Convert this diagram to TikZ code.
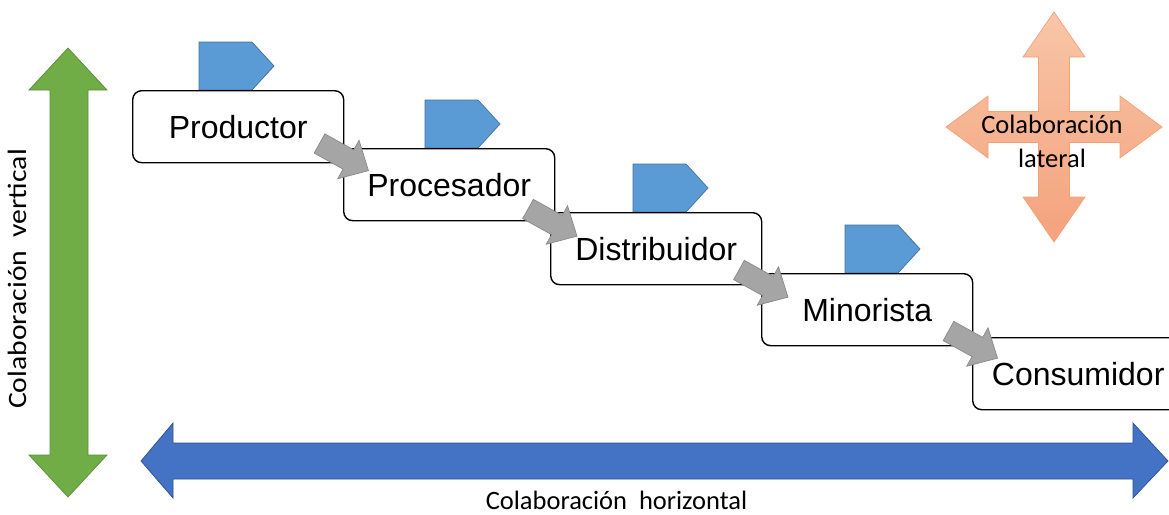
\documentclass[tikz,border=0pt]{standalone}
\usepackage{fontspec}
\setmainfont{Liberation Sans}
\newfontfamily\calibri{Carlito}
\usetikzlibrary{calc}
\definecolor{tagblue}{HTML}{5B9BD5}
\definecolor{tagborder}{HTML}{41719C}
\definecolor{arrgray}{HTML}{A5A5A5}
\definecolor{arrgrayb}{HTML}{8A8A8A}
\definecolor{vgreen}{HTML}{70AD47}
\definecolor{vgreenb}{HTML}{5A8F38}
\definecolor{hblue}{HTML}{4472C4}
\definecolor{hblueb}{HTML}{2F528F}
\definecolor{orTop}{HTML}{F8C6A8}
\definecolor{orBot}{HTML}{F4A27C}
\definecolor{orB}{HTML}{F2A277}
\begin{document}
\begin{tikzpicture}[x=1pt,y=-1pt,
  stagebox/.style={draw=black, line width=1.4pt, rounded corners=9pt, fill=white,
    minimum width=211pt, minimum height=72pt, inner sep=0pt, anchor=north west,
    font=\fontsize{32}{38}\selectfont},
  tagshape/.style={fill=tagblue, draw=tagborder, line width=0.7pt},
  grayarrow/.style={fill=arrgray, draw=arrgrayb, line width=0.7pt},
  labelfont/.style={font=\calibri\fontsize{26.5}{34}\selectfont},
  labeltag/.pic={\draw[tagshape] (0,0) -- (0,-48) -- (53,-48) -- (75,-24) -- (53,0) -- cycle;},
  flowarrow/.pic={\draw[grayarrow] (0,-11) -- (33,-11) -- (33,-22) -- (56,0) -- (33,22) -- (33,11) -- (0,11) -- cycle;}
]
\clip (0,0) rectangle (1169,514);
\fill[white] (0,0) rectangle (1169,514);

% vertical collaboration arrow
\draw[fill=vgreen, draw=vgreenb, line width=0.7pt]
  (68,48) -- (107,90) -- (88,90) -- (88,455) -- (107,455) -- (68,497) -- (29,455)
  -- (50,455) -- (50,90) -- (29,90) -- cycle;
\node[labelfont, rotate=90, anchor=base] (vlab) at (27,279)
  {\scalebox{1.12}[1]{Colaboración\hspace{0.45em}vertical}};

% horizontal collaboration arrow
\draw[fill=hblue, draw=hblueb, line width=0.7pt]
  (141,461) -- (173,423) -- (173,443) -- (1133,443) -- (1133,423) -- (1168,461)
  -- (1133,498) -- (1133,479) -- (173,479) -- (173,498) -- cycle;
\node[labelfont, anchor=base, inner sep=0pt] (hlab) at (616.5,509) {Colaboración\hspace{0.45em}horizontal};

% lateral collaboration cross
\begin{scope}[shift={(1054,127)}]
\draw[top color=orTop, bottom color=orBot, draw=orB, line width=0.7pt]
  (0,-115) -- (31,-70) -- (15.5,-70) -- (15.5,-15.5) -- (66,-15.5) -- (66,-31) -- (108,0)
  -- (66,31) -- (66,15.5) -- (15.5,15.5) -- (15.5,70) -- (31,70) -- (0,115) -- (-31,70)
  -- (-15.5,70) -- (-15.5,15.5) -- (-66,15.5) -- (-66,31) -- (-108,0) -- (-66,-31)
  -- (-66,-15.5) -- (-15.5,-15.5) -- (-15.5,-70) -- (-31,-70) -- cycle;
\end{scope}
\node[labelfont, align=center] (llab) at (1052,141) {Colaboración\\lateral};

% tags
\pic at (199,90) {labeltag};
\pic at (425,148) {labeltag};
\pic at (633,212) {labeltag};
\pic at (845,273) {labeltag};

% stages
\node[stagebox] (prod) at (132,90) {Productor};
\node[stagebox] (proc) at (343,148) {Procesador};
\node[stagebox] (dist) at (550,212) {Distribuidor};
\node[stagebox] (mino) at (761,273) {Minorista};
\node[stagebox] (cons) at (972,337) {Consumidor};

% flow arrows between stages
\coordinate (f1) at ($(proc.north west)+(-23.5,-4.5)$);
\coordinate (f2) at ($(dist.north west)+(-22,-3)$);
\coordinate (f3) at ($(mino.north west)+(-22,-3)$);
\coordinate (f4) at ($(cons.north west)+(-23.5,-6)$);
\foreach \c in {f1,f2,f3,f4}
  \pic[rotate=-29] at (\c) {flowarrow};
\end{tikzpicture}
\end{document}
